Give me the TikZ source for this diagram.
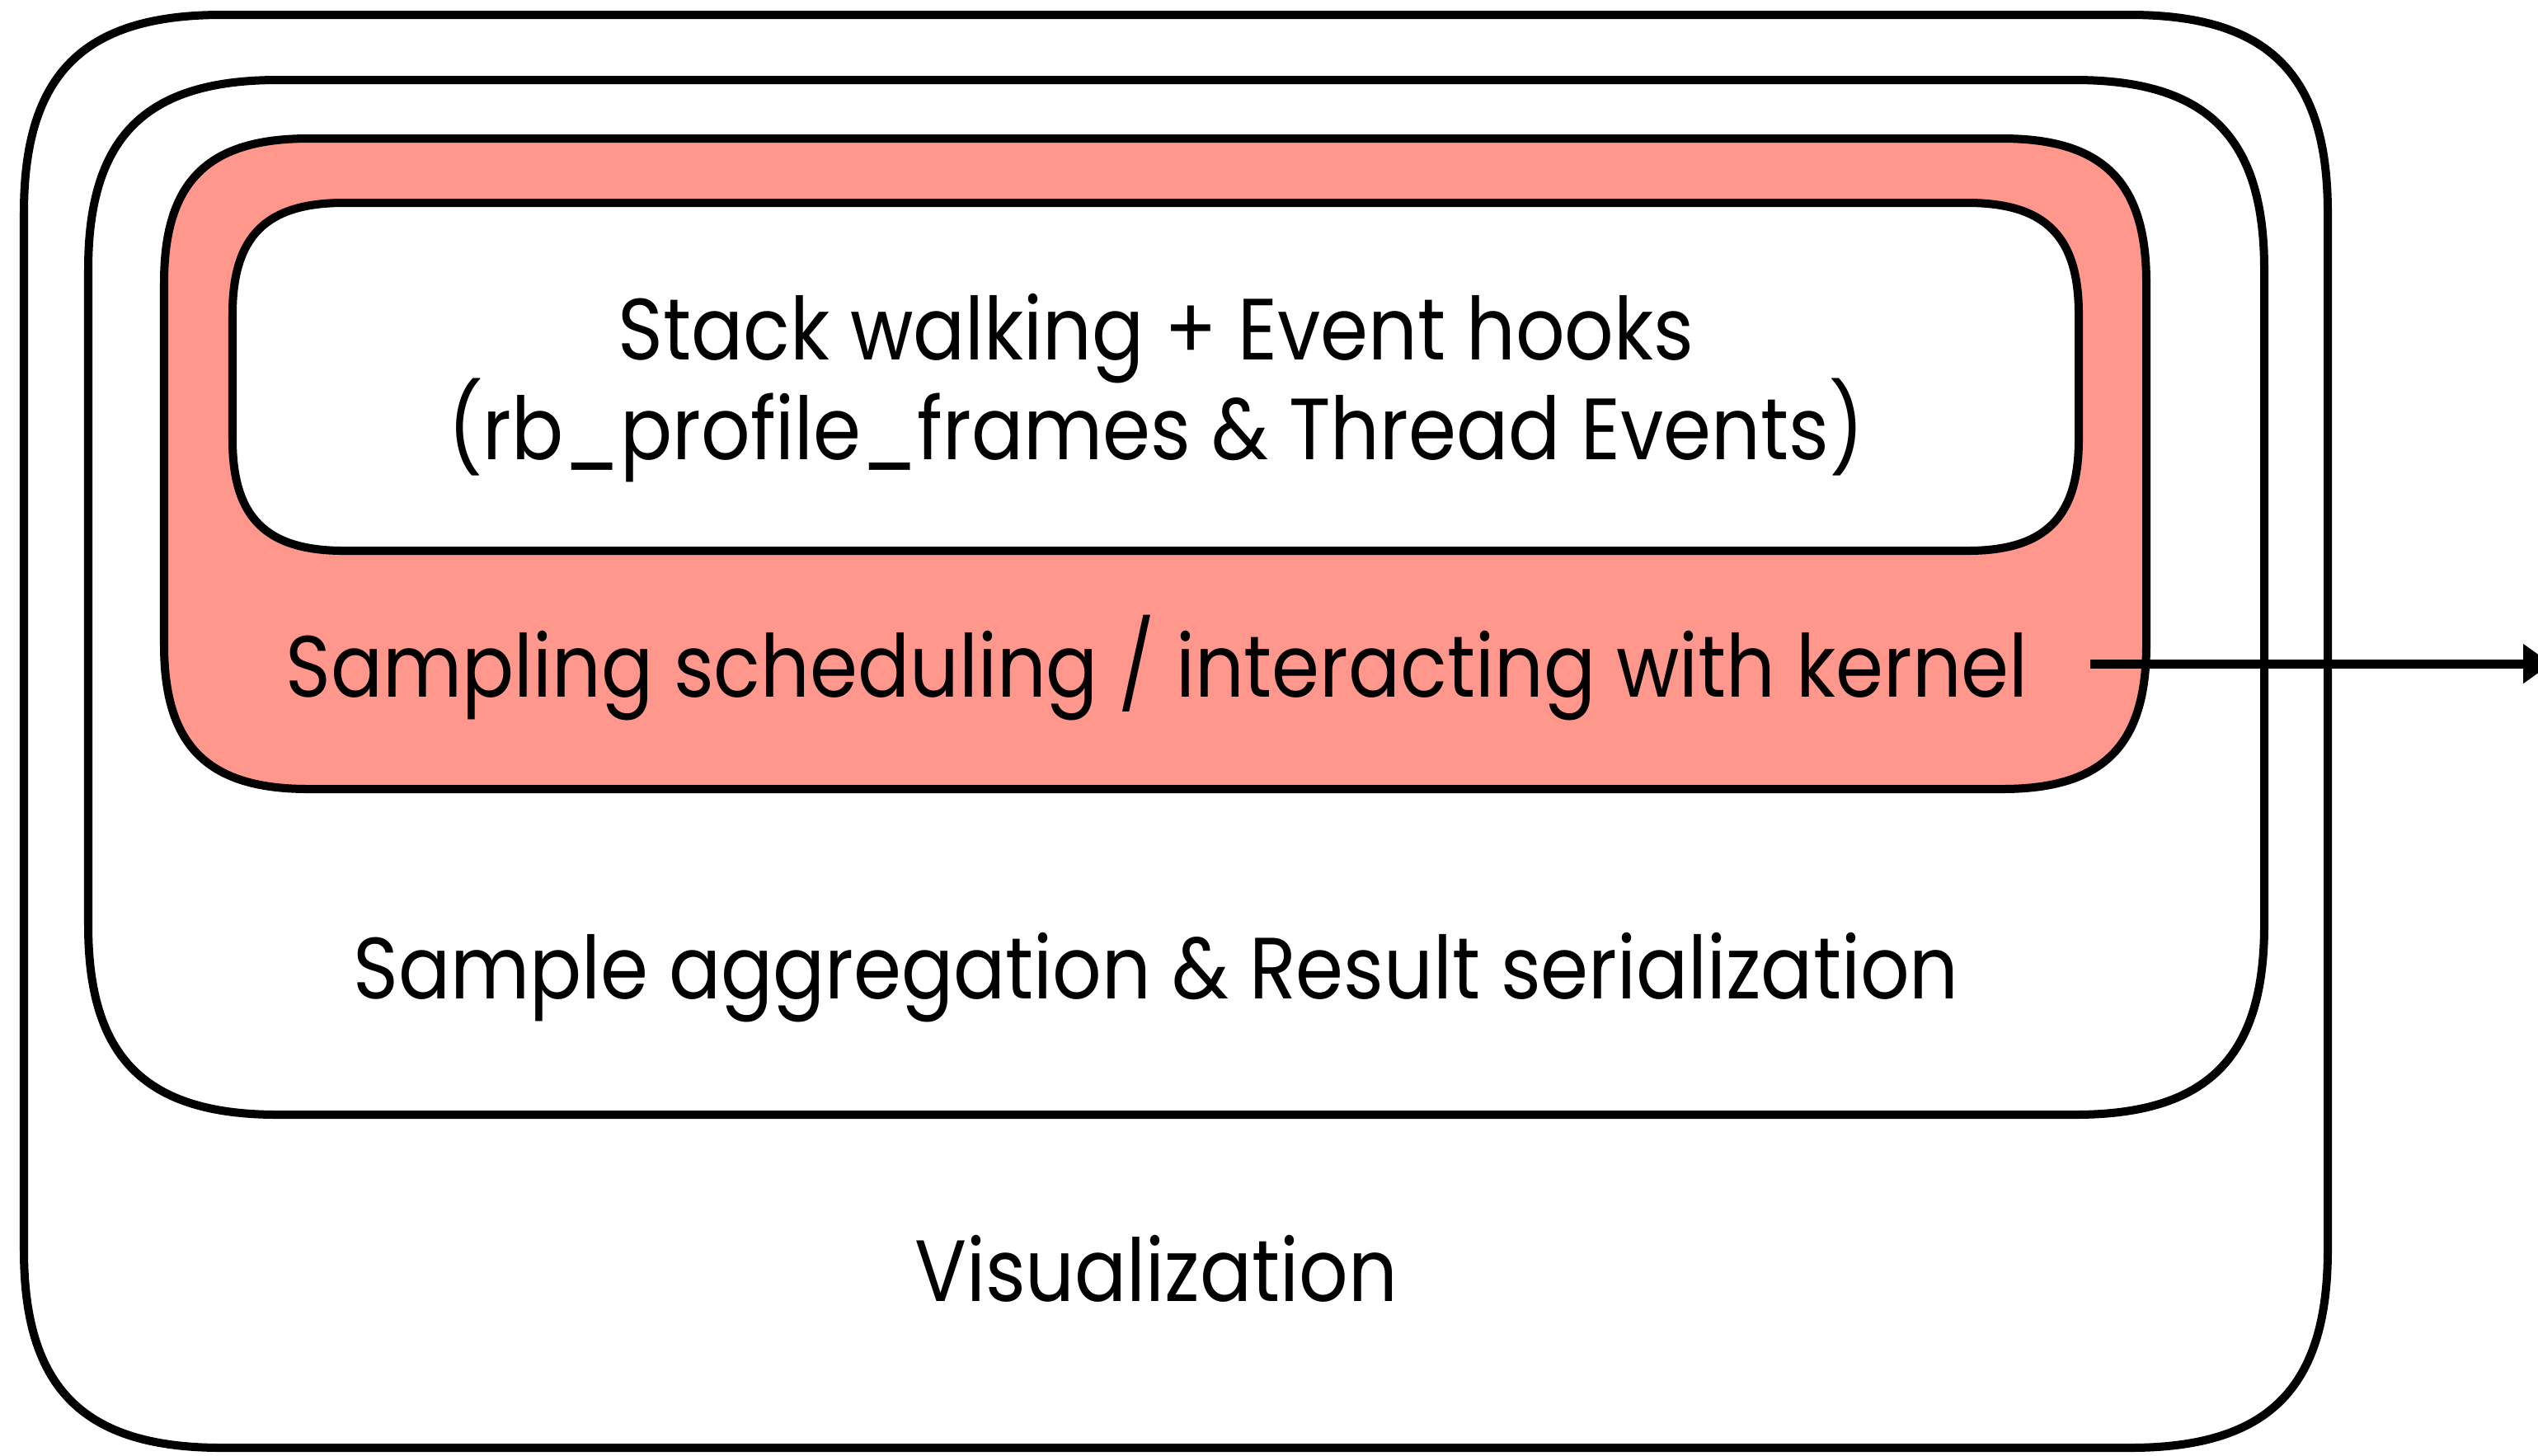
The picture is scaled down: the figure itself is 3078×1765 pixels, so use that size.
\documentclass[tikz,border=0pt]{standalone}
\usepackage{fontspec}
\setmainfont[FakeStretch=0.885]{Poppins}
\usetikzlibrary{arrows.meta,calc}
\definecolor{salmon}{RGB}{255,151,141}
\newcommand\sqbox[6]{%
  \path[#6] ({#1+#5},#2) -- ({#3-#5},#2)
    .. controls ({#3-0.3*#5},#2) and (#3,{#2+0.3*#5}) .. (#3,{#2+#5})
    -- (#3,{#4-#5})
    .. controls (#3,{#4-0.3*#5}) and ({#3-0.3*#5},#4) .. ({#3-#5},#4)
    -- ({#1+#5},#4)
    .. controls ({#1+0.3*#5},#4) and (#1,{#4-0.3*#5}) .. (#1,{#4-#5})
    -- (#1,{#2+#5})
    .. controls (#1,{#2+0.3*#5}) and ({#1+0.3*#5},#2) .. cycle;}
\tikzset{
  frame/.style={draw=black, line width=0.1cm, line join=round},
  label/.style={inner sep=0pt, anchor=base, font=\fontsize{30}{36}\selectfont},
  arrowline/.style={draw=black, line width=0.11cm, -{Triangle[length=0.34cm,width=0.46cm]}}
}
\begin{document}
\begin{tikzpicture}[x=0.01cm,y=-0.01cm]
\useasboundingbox (0,0) rectangle (3078,1765);
\sqbox{29}{18}{2823}{1756}{240}{frame, fill=white}
\sqbox{107}{97}{2746}{1352}{230}{frame, fill=white}
\sqbox{199}{168}{2603}{957}{175}{frame, fill=salmon}
\sqbox{282}{246}{2521}{668}{135}{frame, fill=white}
\node[label] (stack1) at (1402,436) {Stack walking + Event hooks};
\node[label] (stack2) at (1402,557) {(rb\_profile\_frames \& Thread Events)};
\node[label] (samp) at (1403,845) {Sampling scheduling / interacting with kernel};
\node[label] (agg) at (1402,1211) {Sample aggregation \& Result serialization};
\node[label] (vis) at (1402,1578) {Visualization};
\coordinate (tip) at (3094,805);
\draw[arrowline] ($(samp.base east)+(74,-40)$) -- (tip);
\end{tikzpicture}
\end{document}
